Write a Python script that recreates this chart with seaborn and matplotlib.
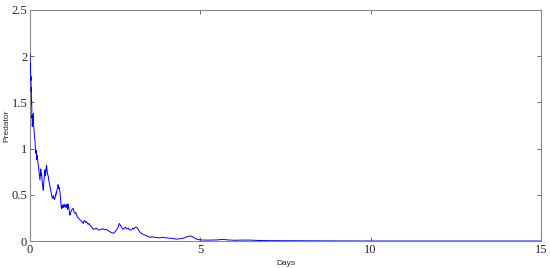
import matplotlib
matplotlib.use("Agg")
import matplotlib.pyplot as plt
import seaborn as sns
import pandas as pd

# valores (dias, predador)
dias = [0.000, 0.008, 0.015, 0.022, 0.029, 0.035, 0.040, 0.045, 0.049, 0.054, 0.058,
        0.063, 0.068, 0.074, 0.080, 0.089, 0.098, 0.108, 0.120, 0.133, 0.147, 0.158,
        0.170, 0.183, 0.196, 0.208, 0.220, 0.232, 0.245, 0.257, 0.270, 0.282, 0.293,
        0.305, 0.318, 0.330, 0.342, 0.354, 0.366, 0.378, 0.391, 0.403, 0.415, 0.428,
        0.440, 0.452, 0.465, 0.477, 0.489, 0.501, 0.513, 0.525, 0.538, 0.550, 0.562,
        0.575, 0.587, 0.605, 0.625, 0.645, 0.665, 0.683, 0.700, 0.717, 0.734, 0.748,
        0.760, 0.772, 0.783, 0.795, 0.810, 0.822, 0.832, 0.845, 0.855, 0.868, 0.880,
        0.893, 0.905, 0.918, 0.930, 0.942, 0.955, 0.967, 0.978, 1.000, 1.020, 1.040,
        1.058, 1.076, 1.090, 1.100, 1.112, 1.125, 1.138, 1.150, 1.162, 1.174, 1.195,
        1.220, 1.245, 1.270, 1.295, 1.320, 1.345, 1.370, 1.395, 1.420, 1.445, 1.470,
        1.495, 1.520, 1.545, 1.565, 1.590, 1.610, 1.635, 1.663, 1.690, 1.710, 1.735,
        1.760, 1.785, 1.810, 1.835, 1.860, 1.90, 1.95, 2.00, 2.05, 2.10, 2.15, 2.20,
        2.25, 2.30, 2.35, 2.40, 2.45, 2.50, 2.54, 2.59, 2.62, 2.64, 2.67, 2.69, 2.72,
        2.74, 2.77, 2.80, 2.84, 2.89, 2.92, 2.94, 2.98, 3.02, 3.05, 3.09, 3.13, 3.17,
        3.20, 3.24, 3.28, 3.34, 3.40, 3.46, 3.52, 3.60, 3.67, 3.75, 3.82, 3.88, 3.92,
        3.96, 4.01, 4.08, 4.15, 4.22, 4.30, 4.40, 4.50, 4.60, 4.70, 4.75, 4.80, 4.85,
        4.89, 4.95, 5.0, 5.15, 5.3, 5.5, 5.66, 5.8, 6.0, 6.2, 6.46, 6.7, 7.0, 7.5,
        8.0, 9.0, 10.0, 12.0, 15.0]
predador = [2.03, 1.85, 1.92, 1.74, 1.78, 1.62, 1.66, 1.48, 1.52, 1.40, 1.33,
            1.36, 1.24, 1.30, 1.34, 1.28, 1.38, 1.25, 1.20, 1.12, 1.09, 1.00,
            0.95, 0.98, 0.88, 0.93, 0.90, 0.85, 0.82, 0.78, 0.74, 0.70, 0.66,
            0.72, 0.78, 0.71, 0.73, 0.66, 0.62, 0.58, 0.55, 0.62, 0.68, 0.72,
            0.77, 0.71, 0.74, 0.80, 0.82, 0.76, 0.74, 0.71, 0.70, 0.66, 0.64,
            0.61, 0.59, 0.55, 0.52, 0.48, 0.46, 0.49, 0.47, 0.45, 0.46, 0.50,
            0.49, 0.53, 0.52, 0.56, 0.57, 0.61, 0.60, 0.57, 0.58, 0.55, 0.54,
            0.47, 0.42, 0.37, 0.35, 0.38, 0.39, 0.36, 0.37, 0.40, 0.37, 0.39,
            0.36, 0.39, 0.40, 0.34, 0.37, 0.40, 0.36, 0.34, 0.30, 0.28, 0.31,
            0.33, 0.35, 0.35, 0.31, 0.30, 0.31, 0.28, 0.26, 0.25, 0.24, 0.23,
            0.22, 0.21, 0.20, 0.19, 0.22, 0.22, 0.20, 0.21, 0.19, 0.18, 0.19,
            0.17, 0.16, 0.15, 0.14, 0.126, 0.13, 0.14, 0.12, 0.12, 0.13, 0.13, 0.12,
            0.126, 0.11, 0.10, 0.09, 0.083, 0.10, 0.12, 0.15, 0.19, 0.18, 0.16, 0.15, 0.13,
            0.126, 0.14, 0.15, 0.13, 0.14, 0.12, 0.12, 0.12, 0.14, 0.13, 0.15, 0.15, 0.13,
            0.11, 0.09, 0.08, 0.07, 0.06, 0.05, 0.04, 0.045, 0.04, 0.035, 0.035, 0.04, 0.04,
            0.035, 0.035, 0.03, 0.03, 0.025, 0.02, 0.025, 0.03, 0.045, 0.055, 0.05, 0.04, 0.028,
            0.02, 0.015, 0.012, 0.01, 0.01, 0.012, 0.018, 0.012, 0.008, 0.01, 0.01, 0.006, 0.004, 0.003,
            0.002, 0.001, 0.0, 0.0, 0.0]

df = pd.DataFrame({'Days': dias, 'Predator': predador})

sns.set_style('ticks')
fig = plt.figure(figsize=(5.5, 2.68), dpi=100)
ax = fig.add_axes([0.0545, 0.1007, 0.929, 0.862])

sns.lineplot(data=df, x='Days', y='Predator', color='#0000ff', linewidth=0.7,
             estimator=None, sort=False, ax=ax, zorder=3)

ax.set_xlim(0, 15)
ax.set_ylim(0, 2.5)
ax.set_xticks([0, 5, 10, 15])
ax.set_yticks([0, 0.5, 1, 1.5, 2, 2.5])
ax.set_yticklabels(['0', '0.5', '1', '1.5', '2', '2.5'])
for lab in ax.get_xticklabels() + ax.get_yticklabels():
    lab.set_family('Liberation Serif')
    lab.set_fontsize(9)
ax.tick_params(direction='in', length=3, width=0.6, color='#555555', pad=2,
               top=True, right=True)
for s in ax.spines.values():
    s.set_visible(True)
    s.set_color('#888888')
    s.set_linewidth(0.8)

ax.set_xlabel('Days', family='Liberation Sans', fontsize=6, labelpad=3)
ax.set_ylabel('Predator', family='Liberation Sans', fontsize=6, labelpad=1)

plt.savefig('out.png', dpi=100)
print("Gráfico predador feito")
